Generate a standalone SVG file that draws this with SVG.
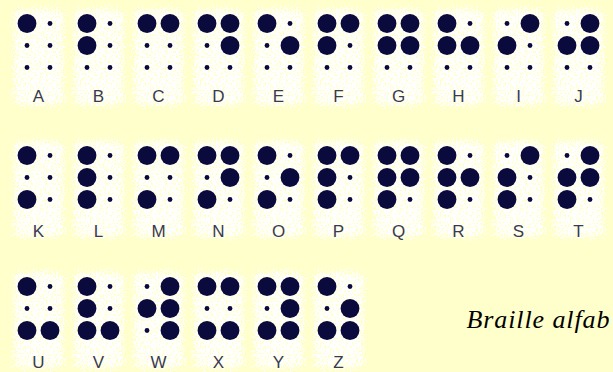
<svg xmlns="http://www.w3.org/2000/svg" xmlns:xlink="http://www.w3.org/1999/xlink" width="613" height="372" viewBox="0 0 613 372">
<style>
.lbl{font-family:"Liberation Sans",Arial,sans-serif;font-size:17px;fill:#3a3a4e;text-anchor:middle}
.halo{fill:#fff}
.cap{font-family:"Liberation Serif","Times New Roman",serif;font-style:italic;font-size:26px;fill:#000}
</style>
<defs>
<circle id="d" r="9.4" fill="#0a0a3c"/>
<circle id="s" r="2.4" fill="#0a0a3c"/>
<filter id="hf" x="-30%" y="-30%" width="160%" height="160%">
<feGaussianBlur in="SourceAlpha" stdDeviation="4" result="b"/>
<feTurbulence type="fractalNoise" baseFrequency="0.6" numOctaves="2" seed="4" result="n"/>
<feComposite in="b" in2="n" operator="arithmetic" k1="0" k2="1" k3="2" k4="-1.75" result="m"/>
<feComponentTransfer in="m" result="t"><feFuncA type="linear" slope="6" intercept="0"/></feComponentTransfer>
<feFlood flood-color="#ffffff"/>
<feComposite in2="t" operator="in"/>
</filter>
<rect id="h" x="11" y="6" width="55" height="102" rx="8" class="halo" filter="url(#hf)"/>
</defs>
<rect width="613" height="372" fill="#ffffcc"/>
<g id="A" transform="translate(0,0)"><use href="#h"/><use href="#d" x="27" y="23.5"/><use href="#s" x="50" y="23.5"/><use href="#s" x="27" y="45.5"/><use href="#s" x="50" y="45.5"/><use href="#s" x="27" y="67.5"/><use href="#s" x="50" y="67.5"/><text class="lbl" x="38.5" y="102">A</text></g>
<g id="B" transform="translate(60,0)"><use href="#h"/><use href="#d" x="27" y="23.5"/><use href="#s" x="50" y="23.5"/><use href="#d" x="27" y="45.5"/><use href="#s" x="50" y="45.5"/><use href="#s" x="27" y="67.5"/><use href="#s" x="50" y="67.5"/><text class="lbl" x="38.5" y="102">B</text></g>
<g id="C" transform="translate(120,0)"><use href="#h"/><use href="#d" x="27" y="23.5"/><use href="#d" x="50" y="23.5"/><use href="#s" x="27" y="45.5"/><use href="#s" x="50" y="45.5"/><use href="#s" x="27" y="67.5"/><use href="#s" x="50" y="67.5"/><text class="lbl" x="38.5" y="102">C</text></g>
<g id="D" transform="translate(180,0)"><use href="#h"/><use href="#d" x="27" y="23.5"/><use href="#d" x="50" y="23.5"/><use href="#s" x="27" y="45.5"/><use href="#d" x="50" y="45.5"/><use href="#s" x="27" y="67.5"/><use href="#s" x="50" y="67.5"/><text class="lbl" x="38.5" y="102">D</text></g>
<g id="E" transform="translate(240,0)"><use href="#h"/><use href="#d" x="27" y="23.5"/><use href="#s" x="50" y="23.5"/><use href="#s" x="27" y="45.5"/><use href="#d" x="50" y="45.5"/><use href="#s" x="27" y="67.5"/><use href="#s" x="50" y="67.5"/><text class="lbl" x="38.5" y="102">E</text></g>
<g id="F" transform="translate(300,0)"><use href="#h"/><use href="#d" x="27" y="23.5"/><use href="#d" x="50" y="23.5"/><use href="#d" x="27" y="45.5"/><use href="#s" x="50" y="45.5"/><use href="#s" x="27" y="67.5"/><use href="#s" x="50" y="67.5"/><text class="lbl" x="38.5" y="102">F</text></g>
<g id="G" transform="translate(360,0)"><use href="#h"/><use href="#d" x="27" y="23.5"/><use href="#d" x="50" y="23.5"/><use href="#d" x="27" y="45.5"/><use href="#d" x="50" y="45.5"/><use href="#s" x="27" y="67.5"/><use href="#s" x="50" y="67.5"/><text class="lbl" x="38.5" y="102">G</text></g>
<g id="H" transform="translate(420,0)"><use href="#h"/><use href="#d" x="27" y="23.5"/><use href="#s" x="50" y="23.5"/><use href="#d" x="27" y="45.5"/><use href="#d" x="50" y="45.5"/><use href="#s" x="27" y="67.5"/><use href="#s" x="50" y="67.5"/><text class="lbl" x="38.5" y="102">H</text></g>
<g id="I" transform="translate(480,0)"><use href="#h"/><use href="#s" x="27" y="23.5"/><use href="#d" x="50" y="23.5"/><use href="#d" x="27" y="45.5"/><use href="#s" x="50" y="45.5"/><use href="#s" x="27" y="67.5"/><use href="#s" x="50" y="67.5"/><text class="lbl" x="38.5" y="102">I</text></g>
<g id="J" transform="translate(540,0)"><use href="#h"/><use href="#s" x="27" y="23.5"/><use href="#d" x="50" y="23.5"/><use href="#d" x="27" y="45.5"/><use href="#d" x="50" y="45.5"/><use href="#s" x="27" y="67.5"/><use href="#s" x="50" y="67.5"/><text class="lbl" x="38.5" y="102">J</text></g>
<g id="K" transform="translate(0,132)"><use href="#h"/><use href="#d" x="27" y="23.5"/><use href="#s" x="50" y="23.5"/><use href="#s" x="27" y="45.5"/><use href="#s" x="50" y="45.5"/><use href="#d" x="27" y="67.5"/><use href="#s" x="50" y="67.5"/><text class="lbl" x="38.5" y="105">K</text></g>
<g id="L" transform="translate(60,132)"><use href="#h"/><use href="#d" x="27" y="23.5"/><use href="#s" x="50" y="23.5"/><use href="#d" x="27" y="45.5"/><use href="#s" x="50" y="45.5"/><use href="#d" x="27" y="67.5"/><use href="#s" x="50" y="67.5"/><text class="lbl" x="38.5" y="105">L</text></g>
<g id="M" transform="translate(120,132)"><use href="#h"/><use href="#d" x="27" y="23.5"/><use href="#d" x="50" y="23.5"/><use href="#s" x="27" y="45.5"/><use href="#s" x="50" y="45.5"/><use href="#d" x="27" y="67.5"/><use href="#s" x="50" y="67.5"/><text class="lbl" x="38.5" y="105">M</text></g>
<g id="N" transform="translate(180,132)"><use href="#h"/><use href="#d" x="27" y="23.5"/><use href="#d" x="50" y="23.5"/><use href="#s" x="27" y="45.5"/><use href="#d" x="50" y="45.5"/><use href="#d" x="27" y="67.5"/><use href="#s" x="50" y="67.5"/><text class="lbl" x="38.5" y="105">N</text></g>
<g id="O" transform="translate(240,132)"><use href="#h"/><use href="#d" x="27" y="23.5"/><use href="#s" x="50" y="23.5"/><use href="#s" x="27" y="45.5"/><use href="#d" x="50" y="45.5"/><use href="#d" x="27" y="67.5"/><use href="#s" x="50" y="67.5"/><text class="lbl" x="38.5" y="105">O</text></g>
<g id="P" transform="translate(300,132)"><use href="#h"/><use href="#d" x="27" y="23.5"/><use href="#d" x="50" y="23.5"/><use href="#d" x="27" y="45.5"/><use href="#s" x="50" y="45.5"/><use href="#d" x="27" y="67.5"/><use href="#s" x="50" y="67.5"/><text class="lbl" x="38.5" y="105">P</text></g>
<g id="Q" transform="translate(360,132)"><use href="#h"/><use href="#d" x="27" y="23.5"/><use href="#d" x="50" y="23.5"/><use href="#d" x="27" y="45.5"/><use href="#d" x="50" y="45.5"/><use href="#d" x="27" y="67.5"/><use href="#s" x="50" y="67.5"/><text class="lbl" x="38.5" y="105">Q</text></g>
<g id="R" transform="translate(420,132)"><use href="#h"/><use href="#d" x="27" y="23.5"/><use href="#s" x="50" y="23.5"/><use href="#d" x="27" y="45.5"/><use href="#d" x="50" y="45.5"/><use href="#d" x="27" y="67.5"/><use href="#s" x="50" y="67.5"/><text class="lbl" x="38.5" y="105">R</text></g>
<g id="S" transform="translate(480,132)"><use href="#h"/><use href="#s" x="27" y="23.5"/><use href="#d" x="50" y="23.5"/><use href="#d" x="27" y="45.5"/><use href="#s" x="50" y="45.5"/><use href="#d" x="27" y="67.5"/><use href="#s" x="50" y="67.5"/><text class="lbl" x="38.5" y="105">S</text></g>
<g id="T" transform="translate(540,132)"><use href="#h"/><use href="#s" x="27" y="23.5"/><use href="#d" x="50" y="23.5"/><use href="#d" x="27" y="45.5"/><use href="#d" x="50" y="45.5"/><use href="#d" x="27" y="67.5"/><use href="#s" x="50" y="67.5"/><text class="lbl" x="38.5" y="105">T</text></g>
<g id="U" transform="translate(0,263)"><use href="#h"/><use href="#d" x="27" y="23.5"/><use href="#s" x="50" y="23.5"/><use href="#s" x="27" y="45.5"/><use href="#s" x="50" y="45.5"/><use href="#d" x="27" y="67.5"/><use href="#d" x="50" y="67.5"/><text class="lbl" x="38.5" y="104.5">U</text></g>
<g id="V" transform="translate(60,263)"><use href="#h"/><use href="#d" x="27" y="23.5"/><use href="#s" x="50" y="23.5"/><use href="#d" x="27" y="45.5"/><use href="#s" x="50" y="45.5"/><use href="#d" x="27" y="67.5"/><use href="#d" x="50" y="67.5"/><text class="lbl" x="38.5" y="104.5">V</text></g>
<g id="W" transform="translate(120,263)"><use href="#h"/><use href="#s" x="27" y="23.5"/><use href="#d" x="50" y="23.5"/><use href="#d" x="27" y="45.5"/><use href="#d" x="50" y="45.5"/><use href="#s" x="27" y="67.5"/><use href="#d" x="50" y="67.5"/><text class="lbl" x="38.5" y="104.5">W</text></g>
<g id="X" transform="translate(180,263)"><use href="#h"/><use href="#d" x="27" y="23.5"/><use href="#d" x="50" y="23.5"/><use href="#s" x="27" y="45.5"/><use href="#s" x="50" y="45.5"/><use href="#d" x="27" y="67.5"/><use href="#d" x="50" y="67.5"/><text class="lbl" x="38.5" y="104.5">X</text></g>
<g id="Y" transform="translate(240,263)"><use href="#h"/><use href="#d" x="27" y="23.5"/><use href="#d" x="50" y="23.5"/><use href="#s" x="27" y="45.5"/><use href="#d" x="50" y="45.5"/><use href="#d" x="27" y="67.5"/><use href="#d" x="50" y="67.5"/><text class="lbl" x="38.5" y="104.5">Y</text></g>
<g id="Z" transform="translate(300,263)"><use href="#h"/><use href="#d" x="27" y="23.5"/><use href="#s" x="50" y="23.5"/><use href="#s" x="27" y="45.5"/><use href="#d" x="50" y="45.5"/><use href="#d" x="27" y="67.5"/><use href="#d" x="50" y="67.5"/><text class="lbl" x="38.5" y="104.5">Z</text></g>
<g id="caption"><text class="cap" x="466.5" y="328" textLength="143" lengthAdjust="spacing">Braille alfab</text></g>
</svg>
